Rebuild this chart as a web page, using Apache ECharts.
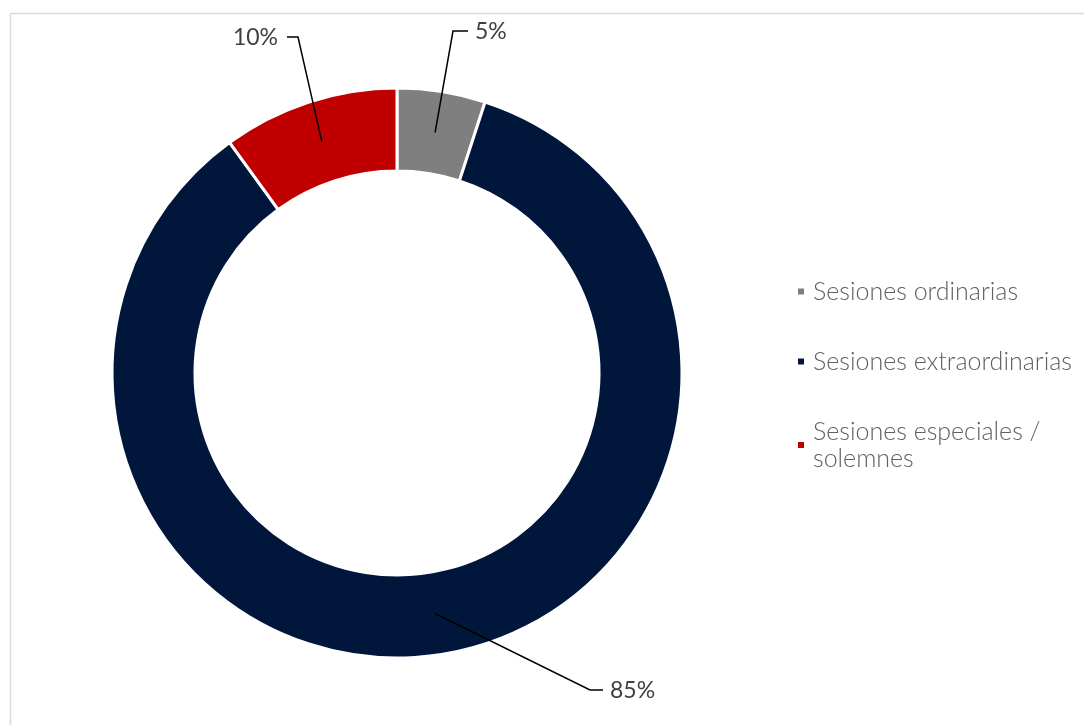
<!DOCTYPE html>
<html><head><meta charset="utf-8">
<script src="https://cdn.jsdelivr.net/npm/echarts@6/dist/echarts.min.js"></script>
<style>html,body{margin:0;padding:0;background:#fff}#c{width:1084px;height:725px}</style>
</head><body><div id="c"></div>
<script>
const categories = ['Sesiones ordinarias', 'Sesiones extraordinarias', 'Sesiones especiales / solemnes'];
const values = [5, 85, 10];
const colors = ['#7f7f7f', '#00163a', '#c00000'];

const CX = 397, CY = 373, R_IN = 202, R_OUT = 285;
// label guide geometry: bend point offset from centre, horizontal tail, side, text gap
const guides = [
  { bend: [56, -342], tail: 15, side: 1, gap: 7 },
  { bend: [193, 317], tail: 13, side: 1, gap: 7 },
  { bend: [-99, -336], tail: 11, side: -1, gap: 9 }
];
const total = values.reduce((a, b) => a + b, 0);
function midAngle(i) {
  let s = 0; for (let k = 0; k < i; k++) s += values[k];
  return (s + values[i] / 2) / total * Math.PI * 2;
}
function guidePoints(i) {
  const g = guides[i], a = midAngle(i), rm = (R_IN + R_OUT) / 2;
  const start = [CX + rm * Math.sin(a), CY - rm * Math.cos(a)];
  const bend = [CX + g.bend[0], CY + g.bend[1]];
  const end = [bend[0] + g.side * g.tail, bend[1]];
  return [start, bend, end];
}

const chart = echarts.init(document.getElementById('c'));
chart.setOption({
  animation: false,
  graphic: [{ type: 'rect', shape: { x: 10.5, y: 13.5, width: 1200, height: 800 },
    style: { fill: 'none', stroke: '#d9d9d9', lineWidth: 1.5 }, silent: true, z: -10 }],
  legend: {
    orient: 'vertical', left: 791, top: 273,
    icon: 'rect', itemWidth: 8, itemHeight: 8, itemGap: 43,
    textStyle: { fontFamily: 'Lato', fontWeight: 300, fontSize: 25, color: '#606060',
      width: 268, overflow: 'break', lineHeight: 27, padding: [0, 0, 0, 3] },
    data: categories
  },
  series: [{
    type: 'pie', center: [CX, CY], radius: [R_IN, R_OUT],
    startAngle: 90, clockwise: true,
    itemStyle: { borderColor: '#fff', borderWidth: 3 },
    label: { show: true, formatter: '{d}%', fontFamily: 'Lato', fontSize: 23, color: '#404040' },
    labelLine: { show: false },
    emphasis: { disabled: true },
    data: categories.map((n, i) => ({ name: n, value: values[i], itemStyle: { color: colors[i] } })),
    labelLayout: function (p) {
      const i = p.dataIndex, g = guides[i];
      const end = guidePoints(i)[2];
      const r = p.labelRect;
      const tx = g.side > 0 ? end[0] + g.gap : end[0] - g.gap - r.width;
      const ty = end[1] + 1 - r.height / 2;
      return { dx: tx - r.x, dy: ty - r.y };
    }
  }, {
    // leader lines from the middle of each ring segment to its label
    type: 'custom', coordinateSystem: 'none', silent: true, z: 5,
    data: values.map((v, i) => [i, v]),
    renderItem: function (params) {
      return { type: 'polyline', shape: { points: guidePoints(params.dataIndex) },
        style: { stroke: '#000', lineWidth: 1.5, fill: null } };
    }
  }]
});
</script></body></html>
